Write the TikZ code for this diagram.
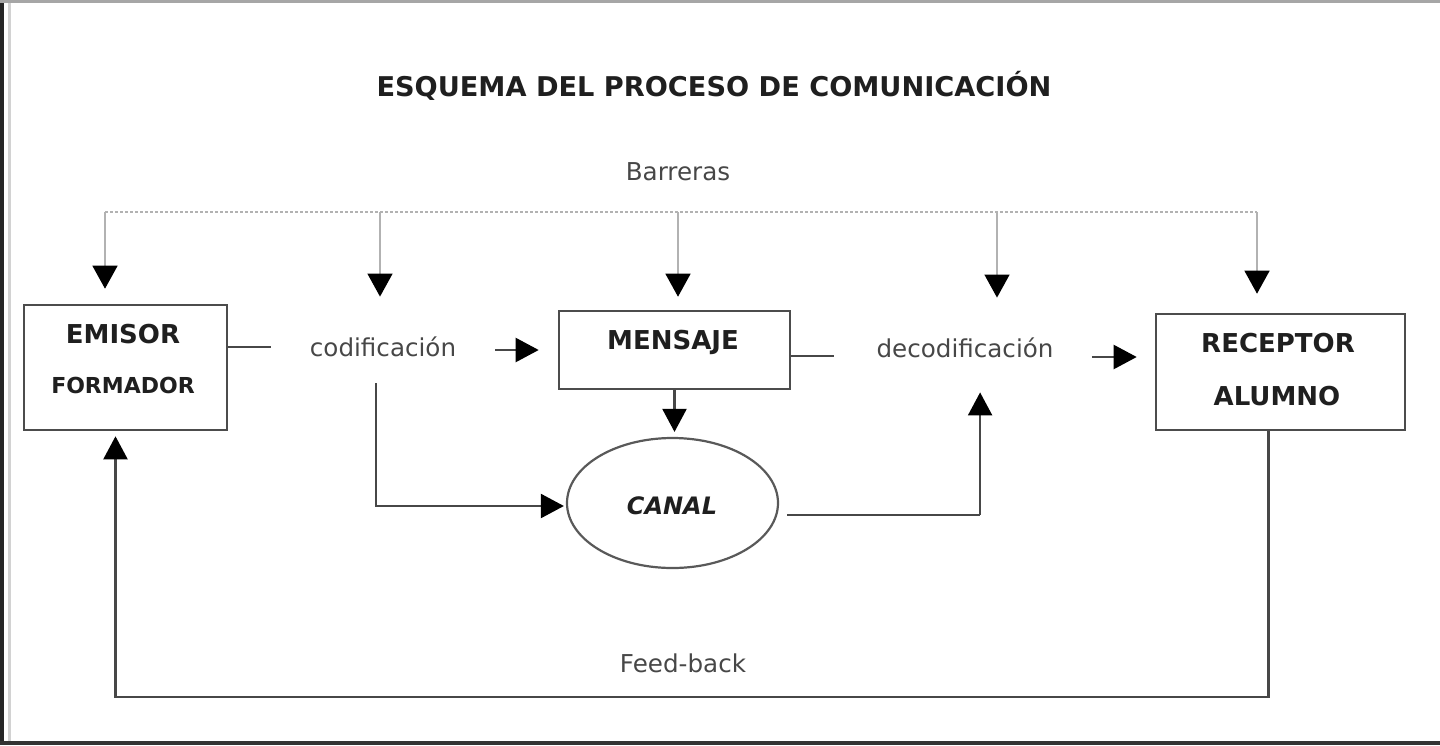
\documentclass[tikz,border=0pt]{standalone}
\usepackage{fontspec}
\setmainfont{DejaVu Sans}
\usetikzlibrary{arrows.meta,positioning,shapes.geometric}

\begin{document}
\begin{tikzpicture}[x=0.5pt,y=-0.5pt,
    box/.style={draw=black!70,line width=1.3pt,inner sep=0pt},
    boxtxt/.style={inner sep=0pt,text=black!88,
        font=\bfseries\fontsize{13}{15}\selectfont},
    plain/.style={inner sep=0pt,text=black!72,
        font=\fontsize{12.3}{14}\selectfont},
    conn/.style={draw=black!72,line width=1.1pt},
    arrow/.style={conn,-{Triangle[length=11.5pt,width=12pt,color=black]}},
    barrier/.style={draw=gray!60,line width=0.7pt,
        -{Triangle[length=11.5pt,width=12.5pt,color=black]}}]
        \useasboundingbox (0,0) rectangle (1440,745);

        % Frame of the picture.
        \fill[black!85] (0,0) rectangle (3.5,745);
        \fill[gray!35] (8,0) rectangle (11,745);
        \fill[gray!70] (0,0) rectangle (1440,3);
        \fill[black!80] (0,741) rectangle (1440,745);

        % Title and the three boxes.
        \node[inner sep=0pt,text=black!88,
            font=\bfseries\fontsize{13.6}{16}\selectfont]
            (title) at (714,86) {ESQUEMA DEL PROCESO DE COMUNICACIÓN};

        \node[box,minimum width=101.5pt,minimum height=62.5pt]
            (emisor) at (125.5,367.5) {};
        \node[boxtxt] (emisorA) at (123,334) {EMISOR};
        \node[boxtxt,font=\bfseries\fontsize{11}{13}\selectfont]
            (emisorB) at (123,385) {FORMADOR};

        \node[box,minimum width=115.5pt,minimum height=39pt]
            (mensaje) at (674.5,350) {};
        \node[boxtxt] (mensajeA) at (673,342) {MENSAJE};

        \node[box,minimum width=124.5pt,minimum height=58pt]
            (receptor) at (1280.5,372) {};
        \node[boxtxt] (receptorA) at (1278,343) {RECEPTOR};
        \node[boxtxt] (receptorB) at (1277,396) {ALUMNO};

        \node[ellipse,draw=black!65,line width=1.1pt,inner sep=0pt,
            minimum width=105.5pt,minimum height=65pt]
            (canal) at (672.5,503) {};
        \node[boxtxt,font=\bfseries\itshape\fontsize{12}{14}\selectfont]
            (canalA) at (672,506) {CANAL};

        % Coding and decoding steps.
        \node[plain] (codif) at (383,347) {codificación};
        \node[plain] (decod) at (965,348) {decodificación};
        \node[plain] (barreras) at (678,172) {Barreras};
        \node[plain] (feedback) at (683,663) {Feed-back};

        % Main flow.
        \draw[conn] (emisor.east |- codif) -- ++(43,0);
        \draw[arrow,shorten <=19.5pt,shorten >=9.5pt]
            (codif.east |- mensaje.west) -- (mensaje.west);
        \draw[conn] ([yshift=-3pt]mensaje.east) -- ++(43,0);
        \draw[arrow,shorten <=19pt,shorten >=9pt]
            ([yshift=-4.5pt]decod.east) -- ([yshift=-4.5pt]decod.east -| receptor.west);
        \draw[arrow,shorten >=2.5pt] (mensaje.south) -- (mensaje.south |- canal.north);
        \draw[arrow,shorten <=13pt,shorten >=1pt]
            ([xshift=-3.5pt]codif.south) |- ([yshift=-1.5pt]canal.west);
        \draw[conn] ([xshift=4pt,yshift=-6pt]canal.east) -- ++(193,0) coordinate (canout);
        \draw[arrow,shorten >=17pt] (canout) -- (canout |- decod.south);

        % Barriers acting on every stage.
        \coordinate (bar1) at (105,212);
        \coordinate (bar2) at (380,212);
        \coordinate (bar3) at (678,212);
        \coordinate (bar4) at (997,212);
        \coordinate (bar5) at (1257,212);
        \draw[draw=gray!60,line width=0.7pt,dash pattern=on 1.5pt off 1pt]
            (bar1) -- (bar5);
        \draw[barrier,shorten >=7.5pt] (bar1) -- (bar1 |- emisor.north);
        \draw[barrier,shorten >=20pt] (bar2) -- (bar2 |- codif.north);
        \draw[barrier,shorten >=6.5pt] (bar3) -- (bar3 |- mensaje.north);
        \draw[barrier,shorten >=20pt] (bar4) -- (bar4 |- decod.north);
        \draw[barrier,shorten >=9.5pt] (bar5) -- (bar5 |- receptor.north);

        % Feed-back loop.
        \draw[arrow,shorten >=2.5pt] ([xshift=-6pt]receptor.south) -- ++(0,266)
            -| ([xshift=-5pt]emisor.south);
    \end{tikzpicture}
\end{document}
